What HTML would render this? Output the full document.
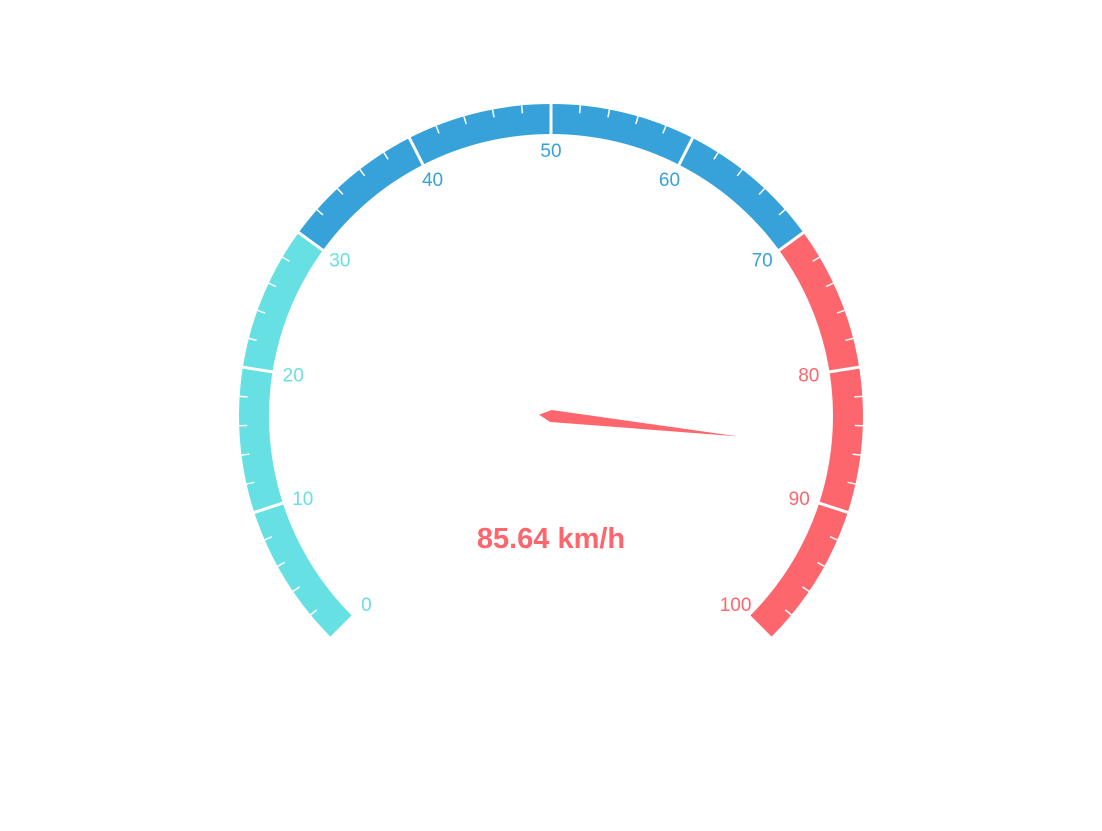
<!DOCTYPE html>
<html><head><meta charset="utf-8"><style>
html,body{margin:0;padding:0;background:#fff;}
svg{display:block;font-family:"Liberation Sans",sans-serif;}
</style></head><body>
<svg id="chart" width="1102" height="831" viewBox="0 0 1102 831"></svg>
<script>
const bandStops = [0.3, 0.7, 1];
const bandColors = ['#67e0e3', '#37a2da', '#fd666d'];
const tickLabels = [0,10,20,30,40,50,60,70,80,90,100];
const gaugeValue = [85.64];
const unitLabel = 'km/h';

const NS='http://www.w3.org/2000/svg';
const svg=document.getElementById('chart');
const cx=551, cy=416, R=312, W=30, minV=0, maxV=100, startA=225, endA=-45;
function ang(v){return (startA+(endA-startA)*(v-minV)/(maxV-minV))*Math.PI/180;}
function pt(a,r){return [cx+r*Math.cos(a), cy-r*Math.sin(a)];}
function mk(tag,attrs){const e=document.createElementNS(NS,tag);for(const k in attrs)e.setAttribute(k,attrs[k]);svg.appendChild(e);return e;}
function colorAt(f){for(let i=0;i<bandStops.length;i++) if(f<=bandStops[i]+1e-9) return bandColors[i]; return bandColors[bandColors.length-1];}

let prev=0;
bandStops.forEach((s,i)=>{
  const a0=ang(prev*100), a1=ang(s*100);
  const [x0,y0]=pt(a0,R),[x1,y1]=pt(a1,R),[x2,y2]=pt(a1,R-W),[x3,y3]=pt(a0,R-W);
  const large=(a0-a1)>Math.PI?1:0;
  const p=mk('path',{d:`M${x0},${y0} A${R},${R} 0 ${large} 1 ${x1},${y1} L${x2},${y2} A${R-W},${R-W} 0 ${large} 0 ${x3},${y3} Z`,fill:bandColors[i]});
  
  
  prev=s;
});
for(let v=0;v<=100;v+=2){
  const a=ang(v);
  if(v%10===0){
    if(v===0||v===100) continue;
    const [x0,y0]=pt(a,R+1),[x1,y1]=pt(a,R-W-1);
    const l=mk('line',{x1:x0,y1:y0,x2:x1,y2:y1,stroke:'#fff','stroke-width':3});
    
    
  } else {
    const [x0,y0]=pt(a,R),[x1,y1]=pt(a,R-8);
    const l=mk('line',{x1:x0,y1:y0,x2:x1,y2:y1,stroke:'#fff','stroke-width':1.5});
    
    
  }
}
tickLabels.forEach(v=>{
  const a=ang(v);
  const x=cx+261*Math.cos(a), y=cy-266*Math.sin(a);
  const t=mk('text',{x:x,y:y+7,'text-anchor':'middle','font-size':19,fill:colorAt(v/100)});
  t.textContent=v;
  
  
});
const va=ang(gaugeValue[0]);
const tip=pt(va,188), back=pt(va,-12);
const perp=va+Math.PI/2;
const b1=[cx+6*Math.cos(perp),cy-6*Math.sin(perp)], b2=[cx-6*Math.cos(perp),cy+6*Math.sin(perp)];
const ptr=mk('polygon',{points:`${back[0]},${back[1]} ${b1[0]},${b1[1]} ${tip[0]},${tip[1]} ${b2[0]},${b2[1]}`,fill:colorAt(gaugeValue[0]/100)});


const vt=mk('text',{x:cx,y:548,'text-anchor':'middle','font-size':29,'font-weight':'bold',fill:colorAt(gaugeValue[0]/100)});
vt.textContent=gaugeValue[0].toFixed(2)+' '+unitLabel;


</script>
</body></html>
